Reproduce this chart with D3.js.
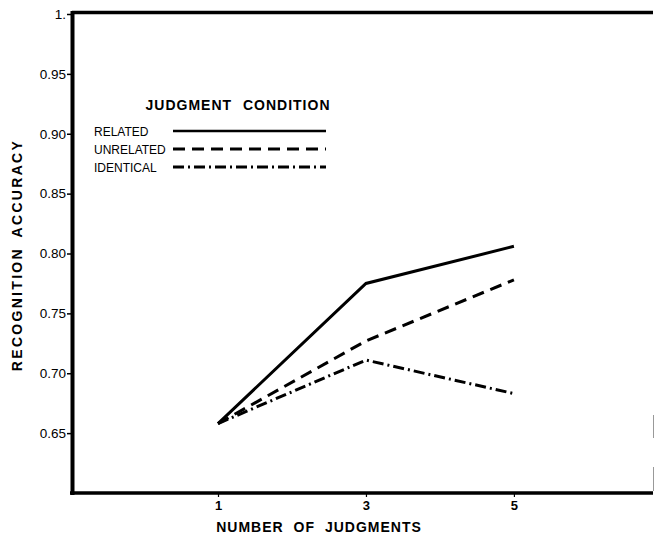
<!DOCTYPE html>
<html><head><meta charset="utf-8">
<script src="https://cdn.jsdelivr.net/npm/d3@7"></script>
<style>body{margin:0;background:#fff}svg{display:block}text{font-family:"Liberation Sans",Arial,sans-serif;fill:#000}</style>
</head><body><svg id="c" width="655" height="534"></svg>
<script>
const judgments = [1, 3, 5];
const related = [0.658, 0.775, 0.806];
const unrelated = [0.658, 0.727, 0.778];
const identical = [0.658, 0.711, 0.683];
const yTicks = [0.65, 0.70, 0.75, 0.80, 0.85, 0.90, 0.95, 1];
const yTickLabels = ["0.65", "0.70", "0.75", "0.80", "0.85", "0.90", "0.95", "1."];
const seriesNames = ["RELATED", "UNRELATED", "IDENTICAL"];
const dashes = [null, "12,7", "11,4,2,4"];

const svg = d3.select("#c");
const x = d3.scaleLinear().domain([-0.96, 6.88]).range([73, 653]);
const y = d3.scaleLinear().domain([0.6, 1.0]).range([493, 14]);

// frame
svg.append("line").attr("x1", 72).attr("x2", 653).attr("y1", 12.5).attr("y2", 12.5).attr("stroke", "#000").attr("stroke-width", 3.5);
svg.append("line").attr("x1", 72.5).attr("x2", 72.5).attr("y1", 11).attr("y2", 495).attr("stroke", "#000").attr("stroke-width", 4);
svg.append("line").attr("x1", 70).attr("x2", 653).attr("y1", 493).attr("y2", 493).attr("stroke", "#000").attr("stroke-width", 3.5);
svg.append("line").attr("x1", 653.5).attr("x2", 653.5).attr("y1", 415).attr("y2", 438).attr("stroke", "#999").attr("stroke-width", 1);
svg.append("line").attr("x1", 653.5).attr("x2", 653.5).attr("y1", 467).attr("y2", 491).attr("stroke", "#999").attr("stroke-width", 1);

// y axis
const yAxis = d3.axisLeft(y).tickValues(yTicks).tickSize(5).tickPadding(1)
  .tickFormat((d, i) => yTickLabels[i]);
const gy = svg.append("g").attr("transform", "translate(72,0)").call(yAxis);
gy.select(".domain").remove();
gy.selectAll("line").attr("stroke-width", 1.5);
gy.selectAll("text").attr("font-size", 13.5).attr("font-family", "Liberation Sans, Arial, sans-serif");

// x axis
const xAxis = d3.axisBottom(x).tickValues(judgments).tickSize(4).tickPadding(4).tickFormat(d3.format("d"));
const gx = svg.append("g").attr("transform", "translate(0,493)").call(xAxis);
gx.select(".domain").remove();
gx.selectAll("line").attr("stroke-width", 1.2);
gx.selectAll("text").attr("font-size", 13).attr("font-weight", "bold").attr("font-family", "Liberation Sans, Arial, sans-serif");

// axis titles
svg.append("text").attr("x", 319).attr("y", 532).attr("text-anchor", "middle")
  .attr("font-size", 14).attr("font-weight", "bold").attr("letter-spacing", "1").attr("word-spacing", "5")
  .text("NUMBER OF JUDGMENTS");
svg.append("text").attr("transform", "translate(22,255) rotate(-90)").attr("text-anchor", "middle")
  .attr("font-size", 14).attr("font-weight", "bold").attr("letter-spacing", "2.3").attr("word-spacing", "4")
  .text("RECOGNITION ACCURACY");

// lines
const line = d3.line().x((d, i) => x(judgments[i])).y(d => y(d));
[related, unrelated, identical].forEach((s, k) => {
  svg.append("path").datum(s).attr("d", line).attr("fill", "none").attr("stroke", "#000")
    .attr("stroke-width", 3).attr("stroke-linejoin", "miter")
    .attr("stroke-dasharray", dashes[k]);
});

// legend
svg.append("text").attr("x", 238).attr("y", 110).attr("text-anchor", "middle")
  .attr("font-size", 14).attr("font-weight", "bold").attr("letter-spacing", "1").attr("word-spacing", "6")
  .text("JUDGMENT CONDITION");
seriesNames.forEach((n, k) => {
  const yy = 131 + k * 18;
  svg.append("text").attr("x", 94).attr("y", yy + 4.5).attr("font-size", 12).text(n);
  svg.append("line").attr("x1", 173).attr("x2", 326).attr("y1", yy).attr("y2", yy)
    .attr("stroke", "#000").attr("stroke-width", k === 0 ? 2.5 : 3).attr("stroke-dasharray", dashes[k]);
});
</script></body></html>
